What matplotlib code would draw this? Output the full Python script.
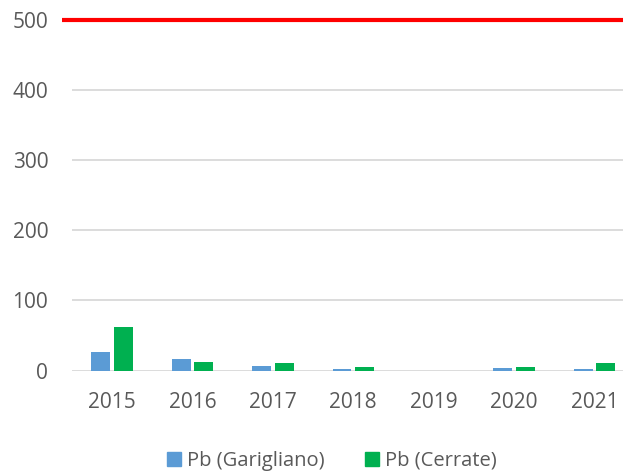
import numpy as np
import matplotlib.pyplot as plt
from matplotlib.patches import Patch

years = ["2015", "2016", "2017", "2018", "2019", "2020", "2021"]
pb_garigliano = [26, 16.5, 7, 3, np.nan, 3.5, 2.5]
pb_cerrate = [62, 12.7, 11, 5, np.nan, 5.5, 11.5]
limit = 500

blue = "#5B9BD5"
green = "#00B050"
grey = "#595959"

plt.rcParams["font.family"] = ["Open Sans", "DejaVu Sans"]

fig = plt.figure(figsize=(6.23, 4.73), dpi=100)
ax = fig.add_axes([0.1153, 0.2163, 0.9033, 0.7421])

x = np.arange(len(years))
w = 0.235
ax.bar(x - 0.14, pb_garigliano, width=w, color=blue, zorder=3)
ax.bar(x + 0.14, pb_cerrate, width=w, color=green, zorder=3)

# limit line, sticks out a little past the plot area like in the original
ax.plot([-0.62, len(years) - 0.3], [limit, limit], color="#FF0000", lw=3,
        clip_on=False, zorder=4, solid_capstyle="butt")

ax.set_xlim(-0.5, len(years) - 0.5)
ax.set_ylim(0, 500)
ax.set_yticks([0, 100, 200, 300, 400, 500])
ax.set_xticks(x)
ax.set_xticklabels(years)
ax.yaxis.grid(True, color="#D9D9D9", lw=1.3, zorder=0)
ax.set_axisbelow(True)
for s in ax.spines.values():
    s.set_visible(False)
ax.tick_params(axis="both", length=0, labelsize=15, colors=grey)
ax.tick_params(axis="y", pad=17)
ax.tick_params(axis="x", pad=15)

handles = [Patch(color=blue, label="Pb (Garigliano)"),
           Patch(color=green, label="Pb (Cerrate)")]
fig.legend(handles=handles, loc="center", bbox_to_anchor=(0.533, 0.026),
           ncol=2, frameon=False, fontsize=14.5, labelcolor=grey,
           handlelength=0.7, handleheight=0.7, handletextpad=0.3,
           columnspacing=2.0)

fig.savefig("out.png", dpi=100)
